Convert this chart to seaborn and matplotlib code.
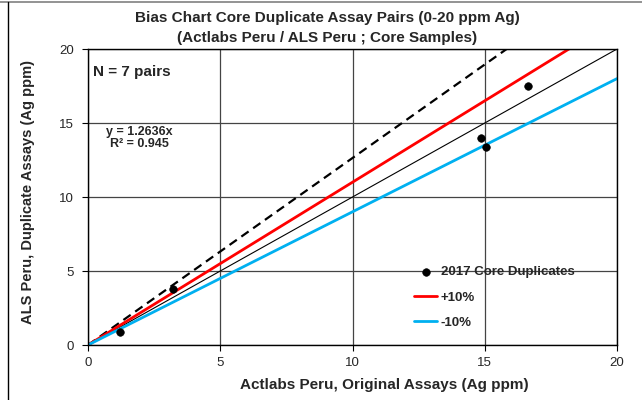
import numpy as np
import pandas as pd
import matplotlib
matplotlib.use("Agg")
import matplotlib.pyplot as plt
from matplotlib.lines import Line2D
import seaborn as sns

# duplicate pairs (Ag ppm)
original = [1.2, 3.2, 14.85, 15.05, 16.65]
duplicate = [0.9, 3.8, 14.0, 13.4, 17.5]

slope = 1.2636
r2 = 0.945
n_pairs = 7
x_line = [0, 20]

sns.set_style("white")
plt.rcParams['font.family'] = ['Liberation Sans', 'DejaVu Sans']

fig = plt.figure(figsize=(6.42, 4.0), dpi=100)
ax = fig.add_axes([0.1371, 0.1375, 0.824, 0.74])

df = pd.DataFrame({'orig': original, 'dup': duplicate})
lines = pd.DataFrame({'x': x_line})
lines['one'] = lines['x']
lines['plus'] = lines['x'] * 1.1
lines['minus'] = lines['x'] * 0.9
trend = pd.DataFrame({'x': [0, 20 / slope]})
trend['y'] = trend['x'] * slope

sns.lineplot(data=lines, x='x', y='one', color='black', lw=0.8, ax=ax)
sns.lineplot(data=trend, x='x', y='y', color='black', lw=1.6, ax=ax,
             dashes=False, linestyle=(0, (4, 2.5)))
sns.lineplot(data=lines, x='x', y='plus', color='#FF0000', lw=2.0, ax=ax, label='+10%')
sns.lineplot(data=lines, x='x', y='minus', color='#00B0F0', lw=2.0, ax=ax, label='-10%')
sns.scatterplot(data=df, x='orig', y='dup', color='black', s=30, edgecolor='black',
                ax=ax, label='2017 Core Duplicates', zorder=5)

ax.set_xlim(0, 20)
ax.set_ylim(0, 20)
ax.set_xticks(range(0, 21, 5))
ax.set_yticks(range(0, 21, 5))
ax.grid(True, color='#444444', lw=0.9)
for s in ax.spines.values():
    s.set_color('black')
    s.set_linewidth(1.0)
ax.tick_params(axis='both', labelsize=9.5, length=4, direction='out', color='black',
               bottom=True, left=True)
ax.tick_params(axis='x', pad=5)
ax.tick_params(axis='y', pad=6)

ax.set_xlabel('Actlabs Peru, Original Assays (Ag ppm)', fontsize=11, fontweight='bold')
ax.set_ylabel('ALS Peru, Duplicate Assays (Ag ppm)', fontsize=10.5, fontweight='bold')
ax.xaxis.set_label_coords(0.56, -0.11)
ax.yaxis.set_label_coords(-0.10, 0.517)

fig.text(0.51, 0.955, 'Bias Chart Core Duplicate Assay Pairs (0-20 ppm Ag)', ha='center', va='center',
         fontsize=11, fontweight='bold')
fig.text(0.51, 0.905, '(Actlabs Peru / ALS Peru ; Core Samples)', ha='center', va='center',
         fontsize=11, fontweight='bold')

ax.text(0.01, 0.922, f'N = {n_pairs} pairs', transform=ax.transAxes, fontsize=11,
        fontweight='bold', va='center', ha='left')
ax.text(0.0964, 0.70, f'y = {slope}x\nR² = {r2}', transform=ax.transAxes, fontsize=9,
        fontweight='bold', va='center', ha='center', linespacing=1.05)

h, l = ax.get_legend_handles_labels()
order = [l.index('2017 Core Duplicates'), l.index('+10%'), l.index('-10%')]
ax.legend([h[i] for i in order], [l[i] for i in order], loc='upper left',
          bbox_to_anchor=(0.607, 0.285), frameon=False, prop={'size': 9.5, 'weight': 'bold'},
          handlelength=1.7, handletextpad=0.3, labelspacing=1.0, borderaxespad=0)

# outer frame of the chart area
fig.add_artist(Line2D([0, 1], [0.994, 0.994], transform=fig.transFigure, color='#808080', lw=1.2))
fig.add_artist(Line2D([0.0125, 0.0125], [0, 0.994], transform=fig.transFigure, color='black', lw=1.0))

fig.savefig('out.png', dpi=100)
